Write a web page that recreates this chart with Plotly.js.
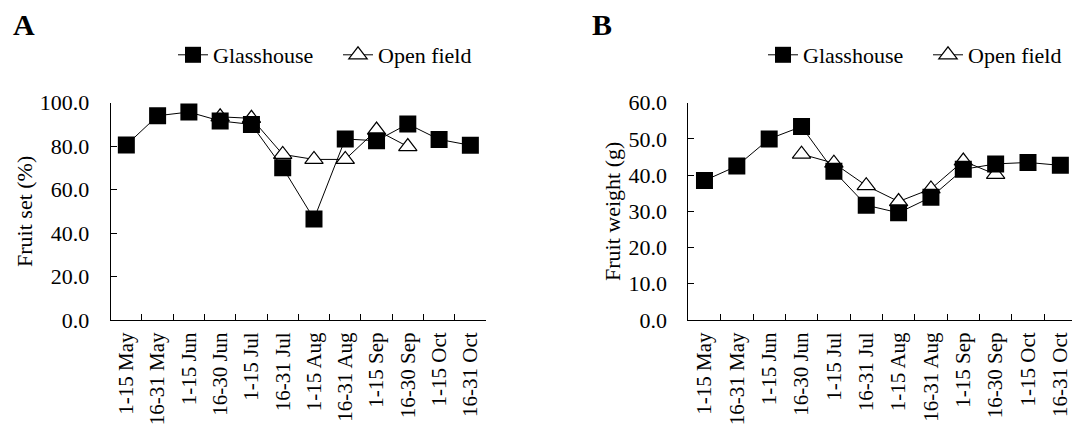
<!DOCTYPE html>
<html>
<head>
<meta charset="utf-8">
<script src="https://cdn.plot.ly/plotly-3.0.1.min.js"></script>
<style>html,body{margin:0;padding:0;background:#fff}#chart{width:1072px;height:430px}</style>
</head>
<body>
<div id="chart"></div>
<script>
const periods = ["1-15 May","16-31 May","1-15 Jun","16-30 Jun","1-15 Jul","16-31 Jul","1-15 Aug","16-31 Aug","1-15 Sep","16-30 Sep","1-15 Oct","16-31 Oct"];
const fruitSetGlasshouse = [80.5, 94.0, 95.7, 91.6, 90.0, 70.1, 46.5, 83.3, 82.5, 90.2, 83.1, 80.4];
const fruitSetOpenField = [null, null, null, 93.5, 92.8, 76.2, 73.9, 73.9, 87.4, 79.8, null, null];
const fruitWeightGlasshouse = [38.5, 42.5, 50.0, 53.4, 41.1, 31.7, 29.6, 33.9, 41.6, 43.1, 43.5, 42.7];
const fruitWeightOpenField = [null, null, null, 45.8, 43.3, 37.1, 32.7, 36.2, 43.9, 40.2, null, null];

const FONT = "Liberation Serif, Times New Roman, serif";
const FS = 22;
const W = 1072, H = 430;
const yTop = 1 - 102.7 / H, yBot = 1 - 320 / H;

function openTrace(y, xa, ya, leg) {
  return {x: periods, y: y, xaxis: xa, yaxis: ya, legend: leg, name: "Open field",
    type: "scatter", mode: "lines+markers", line: {color: "#000", width: 1},
    marker: {symbol: "triangle-up", size: 16, color: "#fff", line: {color: "#000", width: 1.2}}};
}
function glassTrace(y, xa, ya, leg) {
  return {x: periods, y: y, xaxis: xa, yaxis: ya, legend: leg, name: "Glasshouse",
    type: "scatter", mode: "lines+markers", line: {color: "#000", width: 1},
    marker: {symbol: "square", size: 17, color: "#000", line: {color: "#000", width: 0}}};
}

const data = [
  openTrace(fruitSetOpenField, "x", "y", "legend3"),
  glassTrace(fruitSetGlasshouse, "x", "y", "legend"),
  openTrace(fruitWeightOpenField, "x2", "y2", "legend4"),
  glassTrace(fruitWeightGlasshouse, "x2", "y2", "legend2")
];

function xAxis(domain, range, anchor) {
  return {domain: domain, anchor: anchor, type: "category", categoryarray: periods, range: range,
    tickson: "boundaries", ticks: "inside", ticklen: 6, tickcolor: "#000", tickwidth: 1,
    tickangle: -90, showline: true, linecolor: "#000", linewidth: 1, showgrid: false, zeroline: false,
    tickfont: {family: FONT, size: 21, color: "#000"}, ticklabelstandoff: 3, fixedrange: true};
}
function yAxis(domain, range, dtick, title, anchor) {
  return {domain: domain, anchor: anchor, range: range, dtick: dtick, tickformat: ".1f",
    ticks: "inside", ticklen: 6, tickcolor: "#000", tickwidth: 1,
    showline: true, linecolor: "#000", linewidth: 1, showgrid: false, zeroline: false,
    tickfont: {family: FONT, size: FS, color: "#000"}, ticklabelstandoff: 16,
    title: {text: title, font: {family: FONT, size: FS, color: "#000"}, standoff: 1}, fixedrange: true};
}

function legendCfg(x) {
  return {orientation: "h", x: x, xanchor: "left", y: 1 - 55 / H, yanchor: "middle",
    font: {family: FONT, size: FS, color: "#000"}, bgcolor: "rgba(0,0,0,0)", borderwidth: 0};
}

const layout = {
  width: W, height: H, margin: {l: 0, r: 0, t: 0, b: 0, autoexpand: false},
  paper_bgcolor: "#fff", plot_bgcolor: "#fff",
  font: {family: FONT, size: FS, color: "#000"},
  xaxis: xAxis([110.7 / W, 486 / W], [-0.5, 11.5], "y"),
  yaxis: yAxis([yBot, yTop], [0, 100], 20, "Fruit set (%)", "x"),
  xaxis2: xAxis([688.3 / W, 1], [-0.5, 11.36], "y2"),
  yaxis2: yAxis([yBot, yTop], [0, 60], 10, "Fruit weight (g)", "x2"),
  legend: legendCfg(173 / W),
  legend3: legendCfg(338 / W),
  legend2: legendCfg(763 / W),
  legend4: legendCfg(928 / W),
  annotations: [
    {text: "<b>A</b>", xref: "paper", yref: "paper", x: 11 / W, y: 1 - 25 / H, xanchor: "left", yanchor: "middle",
      showarrow: false, font: {family: FONT, size: 30, color: "#000"}},
    {text: "<b>B</b>", xref: "paper", yref: "paper", x: 590 / W, y: 1 - 25 / H, xanchor: "left", yanchor: "middle",
      showarrow: false, font: {family: FONT, size: 30, color: "#000"}}
  ],
  showlegend: true
};

Plotly.newPlot("chart", data, layout, {displayModeBar: false, staticPlot: true});
</script>
</body>
</html>
